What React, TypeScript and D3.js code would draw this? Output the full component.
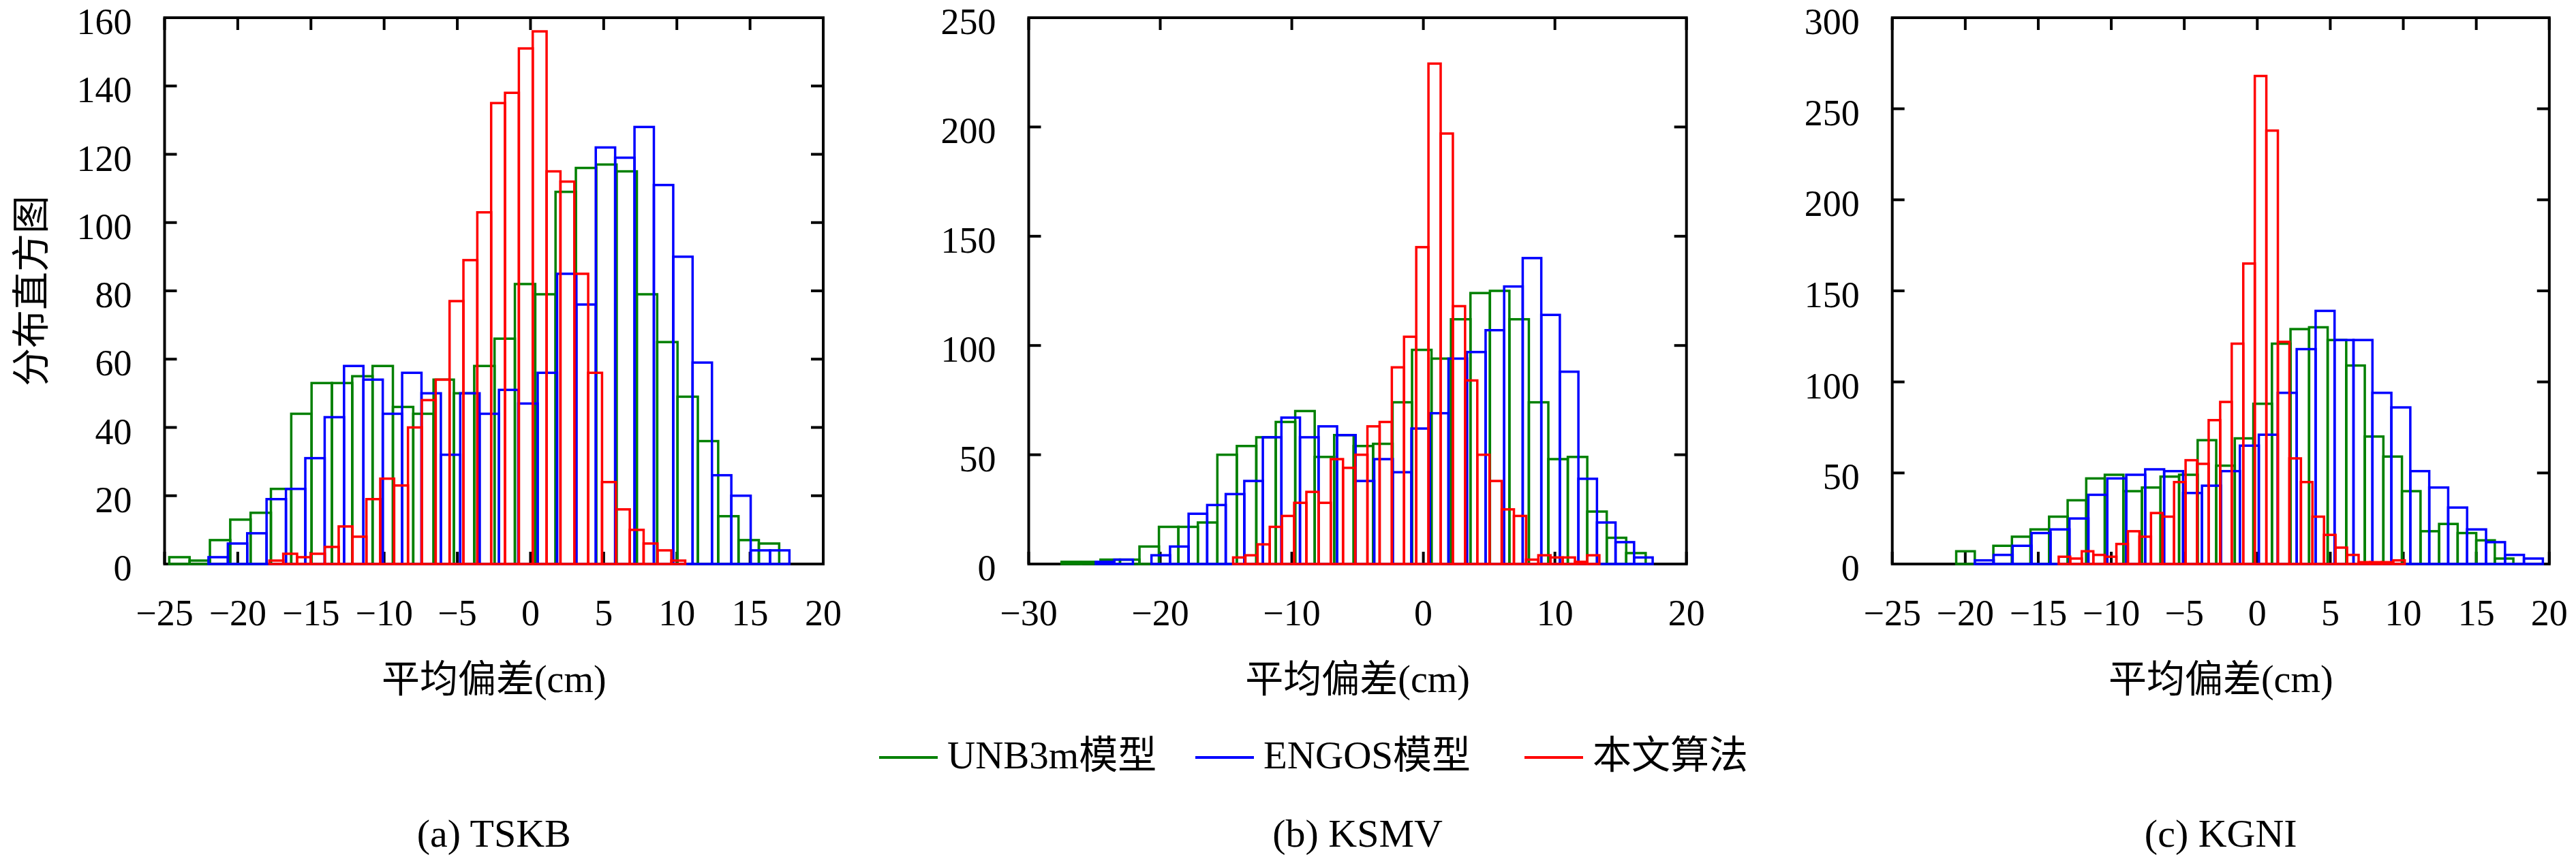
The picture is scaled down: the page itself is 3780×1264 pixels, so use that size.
import React from "react";
import * as d3 from "d3";

const W = 3780;
const H = 1264;

// series order: UNB3m model, ENGOS model, this paper's algorithm
const seriesNames = ["UNB3m模型", "ENGOS模型", "本文算法"];
const seriesColors = ["#008000", "#0000ff", "#ff0000"];

// (a) TSKB
const tskbUnb3m = [2, 1, 7, 13, 15, 22, 44, 53, 53, 55, 58, 46, 44, 54, 50, 58, 66, 82, 79, 109, 116, 117, 115, 79, 65, 49, 36, 14, 7, 6];
const tskbEngos = [2, 6, 9, 19, 22, 31, 43, 58, 54, 44, 56, 50, 32, 50, 44, 51, 47, 56, 85, 76, 122, 119, 128, 111, 90, 59, 26, 20, 4, 4];
const tskbOurs = [1, 3, 2, 3, 5, 11, 8, 19, 25, 23, 40, 48, 54, 77, 89, 103, 135, 138, 151, 156, 115, 112, 85, 56, 24, 16, 10, 6, 4, 1];
const tskbBinStart = [-24.68, -22.0, -17.84];
const tskbBinWidth = [1.389, 1.323, 0.947];

// (b) KSMV
const ksmvUnb3m = [1, 1, 2, 2, 8, 17, 17, 19, 50, 54, 58, 65, 70, 49, 59, 54, 55, 74, 98, 94, 112, 124, 125, 112, 74, 48, 49, 24, 12, 5];
const ksmvEngos = [1, 2, 0, 4, 8, 23, 27, 32, 38, 58, 67, 58, 63, 59, 38, 48, 42, 62, 69, 94, 97, 107, 127, 140, 114, 88, 39, 19, 10, 3];
const ksmvOurs = [3, 4, 9, 17, 22, 28, 33, 28, 48, 44, 50, 63, 65, 90, 104, 145, 229, 197, 118, 84, 50, 38, 25, 22, 2, 4, 3, 3, 1, 4];
const ksmvBinStart = [-27.5, -24.9, -14.46];
const ksmvBinWidth = [1.48, 1.411, 0.928];

// (c) KGNI
const kgniUnb3m = [7, 0, 10, 15, 19, 26, 35, 47, 49, 40, 42, 48, 49, 68, 54, 69, 88, 121, 129, 130, 123, 109, 70, 59, 40, 18, 22, 17, 13, 3];
const kgniEngos = [2, 5, 10, 17, 19, 25, 38, 47, 49, 52, 51, 39, 43, 51, 65, 71, 94, 118, 139, 123, 123, 94, 86, 51, 42, 31, 19, 12, 5, 3];
const kgniOurs = [4, 3, 7, 5, 4, 11, 18, 15, 28, 26, 45, 57, 55, 79, 89, 121, 165, 268, 238, 122, 58, 45, 26, 16, 9, 5, 1, 1, 1, 2];
const kgniBinStart = [-20.62, -19.35, -13.6];
const kgniBinWidth = [1.272, 1.297, 0.79];

const captions = ["(a) TSKB", "(b) KSMV", "(c) KGNI"];
const xDomains = [[-25, 20], [-30, 20], [-25, 20]];
const xTickSteps = [5, 10, 5];
const yDomains = [[0, 160], [0, 250], [0, 300]];
const yTickSteps = [20, 50, 50];

const panelLeft = [241.5, 1509.5, 2776.7];
const panelRight = [1208, 2474.7, 3740.8];
const plotTop = 26;
const plotBottom = 828;

const panels = [
  { counts: [tskbUnb3m, tskbEngos, tskbOurs], start: tskbBinStart, width: tskbBinWidth },
  { counts: [ksmvUnb3m, ksmvEngos, ksmvOurs], start: ksmvBinStart, width: ksmvBinWidth },
  { counts: [kgniUnb3m, kgniEngos, kgniOurs], start: kgniBinStart, width: kgniBinWidth },
];

const serifStyle = { fontFamily: "'Liberation Serif', 'DejaVu Serif', serif" };
const cjkStyle = { fontFamily: "'Noto Sans CJK SC', sans-serif" };
const TICK = 18;

// Chinese runs get the CJK font, everything else the serif one
function Mixed({ text }: { text: string }) {
  const parts = text.match(/[\u3400-\u9fff]+|[^\u3400-\u9fff]+/g) ?? [];
  return (
    <>
      {parts.map((s, i) => (
        <tspan key={i} style={/[\u3400-\u9fff]/.test(s) ? cjkStyle : serifStyle}>
          {s}
        </tspan>
      ))}
    </>
  );
}

function Panel({ idx }: { idx: number }) {
  const p = panels[idx];
  const x = d3.scaleLinear().domain(xDomains[idx]).range([panelLeft[idx], panelRight[idx]]);
  const y = d3.scaleLinear().domain(yDomains[idx]).range([plotBottom, plotTop]);
  const xTicks = d3.range(xDomains[idx][0], xDomains[idx][1] + 0.01, xTickSteps[idx]);
  const yTicks = d3.range(yDomains[idx][0], yDomains[idx][1] + 0.01, yTickSteps[idx]);
  const fmt = d3.format("d");
  const cx = (panelLeft[idx] + panelRight[idx]) / 2;

  return (
    <g>
      <rect
        x={x.range()[0]}
        y={plotTop}
        width={x.range()[1] - x.range()[0]}
        height={plotBottom - plotTop}
        fill="none"
        stroke="#000"
        strokeWidth={4}
      />
      {xTicks.map((t) => (
        <g key={`xt${t}`}>
          <line x1={x(t)} x2={x(t)} y1={plotBottom} y2={plotBottom - TICK} stroke="#000" strokeWidth={4} />
          <line x1={x(t)} x2={x(t)} y1={plotTop} y2={plotTop + TICK} stroke="#000" strokeWidth={4} />
          <text x={x(t)} y={918} textAnchor="middle" fontSize={54} style={serifStyle}>
            {fmt(t).replace("-", "\u2212")}
          </text>
        </g>
      ))}
      {yTicks.map((t) => (
        <g key={`yt${t}`}>
          <line x1={x.range()[0]} x2={x.range()[0] + TICK} y1={y(t)} y2={y(t)} stroke="#000" strokeWidth={4} />
          <line x1={x.range()[1]} x2={x.range()[1] - TICK} y1={y(t)} y2={y(t)} stroke="#000" strokeWidth={4} />
          <text
            x={x.range()[0] - 48}
            y={y(t) + 6}
            textAnchor="end"
            dominantBaseline="central"
            fontSize={54}
            style={serifStyle}
          >
            {fmt(t)}
          </text>
        </g>
      ))}
      {p.counts.map((series, s) => (
        <g key={`s${s}`} fill="none" stroke={seriesColors[s]} strokeWidth={3.5}>
          {series.map((c, i) => {
            const x0 = x(p.start[s] + i * p.width[s]);
            const x1 = x(p.start[s] + (i + 1) * p.width[s]);
            return <rect key={i} x={x0} y={y(c)} width={x1 - x0} height={y(0) - y(c)} />;
          })}
        </g>
      ))}
      <text x={cx} y={1016} textAnchor="middle" fontSize={56}>
        <Mixed text="平均偏差(cm)" />
      </text>
      <text x={cx} y={1243} textAnchor="middle" fontSize={58} style={serifStyle}>
        {captions[idx]}
      </text>
    </g>
  );
}

const legendLineX = [1290, 1754, 2237];

export default function App() {
  return (
    <div style={{ position: "absolute", left: 0, top: 0, background: "#fff" }}>
      <svg width={W} height={H} viewBox={`0 0 ${W} ${H}`} style={{ display: "block" }}>
        <rect width={W} height={H} fill="#fff" />
        {[0, 1, 2].map((i) => (
          <Panel key={i} idx={i} />
        ))}
        <text
          transform={`translate(40,${(plotTop + plotBottom) / 2}) rotate(-90)`}
          textAnchor="middle"
          dominantBaseline="central"
          fontSize={56}
          style={cjkStyle}
        >
          分布直方图
        </text>
        {seriesNames.map((name, i) => (
          <g key={name}>
            <line
              x1={legendLineX[i]}
              x2={legendLineX[i] + 86}
              y1={1112}
              y2={1112}
              stroke={seriesColors[i]}
              strokeWidth={4}
            />
            <text x={legendLineX[i] + 100} y={1128} fontSize={57}>
              <Mixed text={name} />
            </text>
          </g>
        ))}
      </svg>
    </div>
  );
}
